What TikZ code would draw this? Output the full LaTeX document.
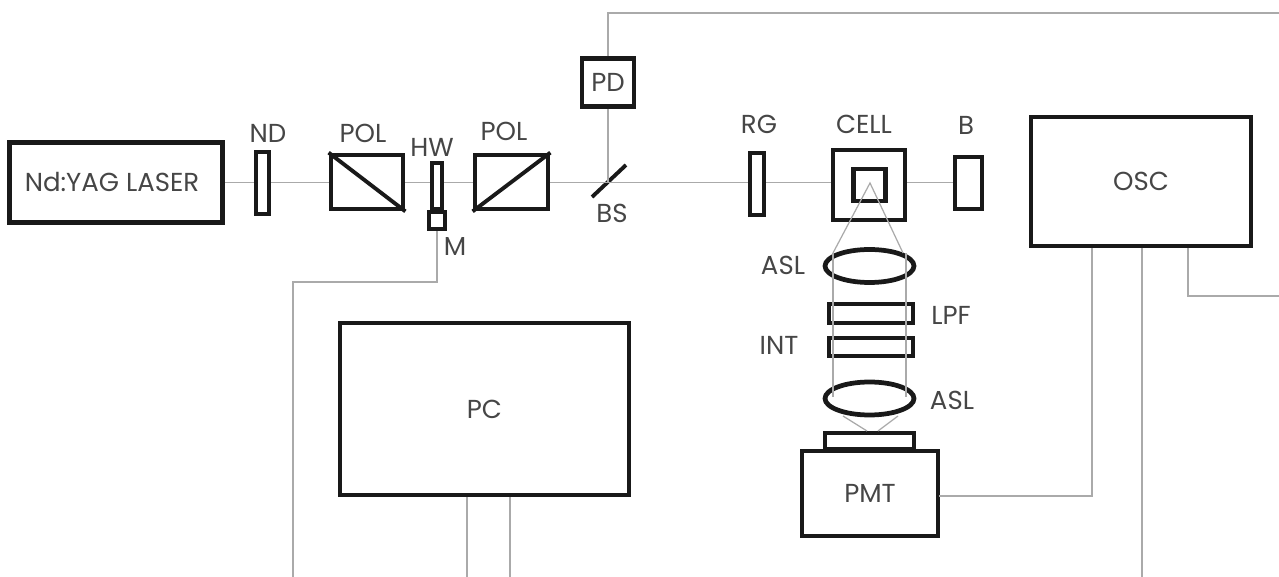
\documentclass[tikz,border=0pt]{standalone}
\usepackage{fontspec}
\setmainfont{Poppins}
\usetikzlibrary{shapes.geometric, positioning}
\definecolor{bkLine}{RGB}{25,25,25}
\definecolor{bkBeam}{RGB}{170,170,170}
\definecolor{bkText}{RGB}{70,70,70}
\tikzset{
  optic/.style 2 args={draw=bkLine,line width=2.7pt,rectangle,inner sep=0pt,
    minimum width=#1*0.02cm,minimum height=#2*0.02cm,text=bkText},
  lens/.style={draw=bkLine,line width=2.7pt,ellipse,inner sep=0pt,
    minimum width=1.78cm,minimum height=0.66cm},
  tag/.style={text=bkText,inner sep=0pt},
  beam/.style={draw=bkBeam,line width=0.7pt},
}
\begin{document}
\begin{tikzpicture}[x=0.02cm,y=-0.02cm,font=\fontsize{14.8}{16}\selectfont]
  \useasboundingbox (0,0) rectangle (1279,577);
  % source and beam line
  \node[optic={213}{80}] (laser) at (116,182.5) {};
  \node[optic={13}{62}] (nd) at (262.5,183) {};
  \node[optic={72}{54}] (polA) at (367,182) {};
  \node[optic={10}{46}] (hw) at (437,186) {};
  \node[optic={16}{17}] (motor) at (437,220.5) {};
  \node[optic={73}{54}] (polB) at (511.5,182) {};
  \node[optic={52}{48}] (pd) at (608,82.5) {PD};
  \node[optic={14}{62}] (rg) at (757,184) {};
  \node[optic={72}{70}] (cell) at (869,185) {};
  \node[optic={32}{32}] (inner) at (869.5,185) {};
  \node[optic={27}{52}] (block) at (968.5,183) {};
  \node[optic={220}{129}] (osc) at (1141,181.5) {OSC};
  \node[optic={289}{172}] (pc) at (484.5,409) {PC};
  % collection optics
  \node[lens] (aslA) at (869.5,266) {};
  \node[optic={84}{19}] (lpf) at (871,313.5) {};
  \node[optic={84}{18}] (int) at (871,347) {};
  \node[lens] (aslB) at (869.5,398.5) {};
  \node[optic={89}{16}] (window) at (869.5,441) {};
  \node[optic={136}{85}] (pmt) at (870,493.5) {PMT};
  % labels
  \node[tag] (lasertag) at (112,182) {Nd:YAG LASER};
  \node[tag] (ndtag) at (268,133) {ND};
  \node[tag] (polAtag) at (363,133) {POL};
  \node[tag] (hwtag) at (432,147) {HW};
  \node[tag] (polBtag) at (504,131) {POL};
  \node[tag] (mtag) at (455,247) {M};
  \node[tag] (bstag) at (612,213) {BS};
  \node[tag] (rgtag) at (759,124) {RG};
  \node[tag] (celltag) at (864,124) {CELL};
  \node[tag] (btag) at (966,125) {B};
  \node[tag] (aslAtag) at (783,265) {ASL};
  \node[tag] (lpftag) at (951,315) {LPF};
  \node[tag] (inttag) at (779,345) {INT};
  \node[tag] (aslBtag) at (952,400) {ASL};
  % splitter
  \coordinate (bsA) at (592,197);
  \coordinate (bsB) at (626,165);
  \coordinate (bsC) at (608,183);
  \draw[bkLine,line width=2.2pt] (bsA) -- (bsB);
  \draw[bkLine,line width=2.2pt] (polA.north west) -- (polA.south east);
  \draw[bkLine,line width=2.2pt] (polB.south west) -- (polB.north east);
  % beam
  \draw[beam] (laser.east) -- (laser.east -| nd.west);
  \draw[beam] (laser.east -| nd.east) -- (laser.east -| polA.west);
  \draw[beam] (laser.east -| polA.east) -- (laser.east -| hw.west);
  \draw[beam] (laser.east -| hw.east) -- (laser.east -| polB.west);
  \draw[beam] (laser.east -| polB.east) -- (laser.east -| rg.west);
  \draw[beam] (laser.east -| rg.east) -- (laser.east -| cell.west);
  \draw[beam] (laser.east -| cell.east) -- (laser.east -| block.west);
  \draw[beam] (pd.south) -- (bsC);
  % fluorescence
  \coordinate (apex) at (870,183);
  \coordinate (fanL) at (833,253);
  \coordinate (fanR) at (903,253);
  \coordinate (paraL) at (833,397);
  \coordinate (paraR) at (906,397);
  \coordinate (outL) at (843,416);
  \coordinate (outR) at (898,416);
  \coordinate (inL) at (867,431);
  \coordinate (inR) at (878,431);
  \draw[beam] (fanL) -- (apex) -- (fanR);
  \draw[beam] (fanL) -- (paraL);
  \draw[beam] (906,253) -- (paraR);
  \draw[beam] (outL) -- (inL);
  \draw[beam] (outR) -- (inR);
  % signal cables
  \coordinate (pdEnd) at (1279,13);
  \coordinate (mEnd) at (293,577);
  \coordinate (pcEndA) at (467,577);
  \coordinate (pcEndB) at (510,577);
  \coordinate (oscEnd) at (1142,577);
  \coordinate (oscOut) at (1279,296);
  \coordinate (oscPmt) at (1092,248);
  \coordinate (oscMid) at (1142,248);
  \coordinate (oscRight) at (1188,248);
  \coordinate (pmtOut) at (939,496);
  \draw[beam] (pd.north) |- (pdEnd);
  \draw[beam] (motor.south) -- (437,282) -| (mEnd);
  \draw[beam] (pcEndA |- pc.south) -- (pcEndA);
  \draw[beam] (pcEndB |- pc.south) -- (pcEndB);
  \draw[beam] (pmtOut) -| (oscPmt);
  \draw[beam] (oscMid) -- (oscEnd);
  \draw[beam] (oscRight) |- (oscOut);
\end{tikzpicture}
\end{document}
